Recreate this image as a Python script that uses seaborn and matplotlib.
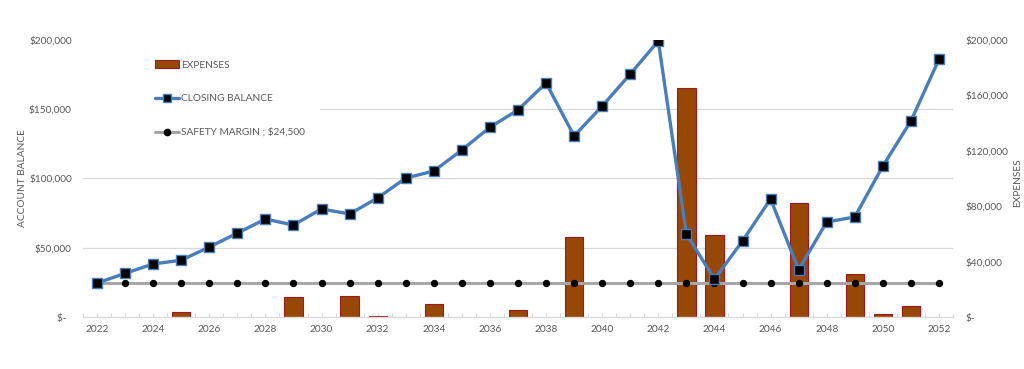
import matplotlib
matplotlib.use("Agg")
import matplotlib.pyplot as plt
import seaborn as sns
import pandas as pd
from matplotlib.ticker import FixedLocator, MultipleLocator
from matplotlib.patches import Patch, Rectangle
from matplotlib.lines import Line2D

# ---------------- data ----------------
years = list(range(2022, 2053))

closing_balance = [24500, 31500, 38300, 41000, 50500, 60600, 70700, 66400, 78000, 74400,
                   86000, 100300, 105400, 120600, 137000, 149500, 169000, 130700, 152300, 175400,
                   199300, 60000, 27300, 54900, 85200, 34200, 68600, 72200, 109000, 141500,
                   186000]

expenses = [0, 0, 0, 3900, 0, 0, 0, 14200, 0, 15200,
            1000, 0, 9400, 0, 0, 5000, 0, 58000, 0, 0,
            0, 165000, 59200, 0, 0, 82500, 0, 31000, 2200, 8200,
            0]

safety_margin = [24500, 24500, 24500, 24500, 24500, 24500, 24500, 24500, 24500, 24500,
                 24500, 24500, 24500, 24500, 24500, 24500, 24500, 24500, 24500, 24500,
                 24500, 24500, 24500, 24500, 24500, 24500, 24500, 24500, 24500, 24500,
                 24500]

left_ticks = [0, 50000, 100000, 150000, 200000]
left_labels = ["$-  ", "$50,000", "$100,000", "$150,000", "$200,000"]
right_ticks = [0, 40000, 80000, 120000, 160000, 200000]
right_labels = ["$-", "$40,000", "$80,000", "$120,000", "$160,000", "$200,000"]
x_ticks = list(range(2022, 2053, 2))

legend_labels = ["EXPENSES", "CLOSING BALANCE", "SAFETY MARGIN ; $24,500"]

# ---------------- style ----------------
sns.set_theme(style="white")
plt.rcParams["font.family"] = ["Lato", "DejaVu Sans"]

TEXT = "#595959"
GRID = "#D9D9D9"
BAR_FILL = "#974706"
BAR_EDGE = "#A0181C"
BLUE = "#4A7EBB"
GRAY = "#A6A6A6"
FS = 7.3

df = pd.DataFrame({"year": years, "balance": closing_balance,
                   "expenses": expenses, "safety": safety_margin})
bars_df = df[df["expenses"] > 0]

fig = plt.figure(figsize=(10.24, 3.69), dpi=100)
ax = fig.add_axes([83 / 1024, 52 / 369, 870 / 1024, 277 / 369])

# bars: expenses (right axis)
sns.barplot(data=bars_df, x="year", y="expenses", native_scale=True, width=0.65,
            color=BAR_FILL, saturation=1, edgecolor=BAR_EDGE, linewidth=0.8,
            ax=ax, zorder=2)

ax2 = ax.twinx()
sns.lineplot(data=df, x="year", y="safety", ax=ax2, color=GRAY, linewidth=2.2,
             marker="o", markersize=4.5, markerfacecolor="black",
             markeredgecolor="black", zorder=3)
sns.lineplot(data=df, x="year", y="balance", ax=ax2, color=BLUE, linewidth=2.4,
             marker="s", markersize=7, markerfacecolor="black",
             markeredgecolor=BLUE, markeredgewidth=1, zorder=4)

# limits
ax.set_xlim(2021.5, 2052.5)
ax.set_ylim(0, 200000)
ax2.set_ylim(0, 200000)

# axis positions
ax.yaxis.tick_right()
ax.yaxis.set_label_position("right")
ax2.yaxis.tick_left()
ax2.yaxis.set_label_position("left")

ax.set_yticks(right_ticks)
ax.set_yticklabels(right_labels)
ax2.set_yticks(left_ticks)
ax2.set_yticklabels(left_labels)

ax.set_xticks(x_ticks)
ax.set_xticklabels([str(y) for y in x_ticks])
ax.xaxis.set_minor_locator(MultipleLocator(0.5))

# gridlines (behind bars) at the balance-axis positions
ax.yaxis.set_minor_locator(FixedLocator(left_ticks[1:]))
ax.grid(False)
ax2.grid(False)
ax.grid(True, which="minor", axis="y", color=GRID, linewidth=0.9)
ax.set_axisbelow(True)

# white box behind legend (hides gridline there)
ax.add_patch(Rectangle((0, 0.62), 0.272, 0.34, transform=ax.transAxes,
                       facecolor="white", edgecolor="none", zorder=1))

# spines
for s in ["top", "left", "right"]:
    ax.spines[s].set_visible(False)
for s in ax2.spines.values():
    s.set_visible(False)
ax.spines["bottom"].set_color(GRID)
ax.spines["bottom"].set_linewidth(1)

ax.tick_params(axis="x", which="both", direction="in", length=3, width=0.8,
               color=GRID, labelsize=FS, labelcolor=TEXT, pad=6, bottom=True, top=False)
ax.tick_params(axis="y", which="both", length=0, labelsize=FS, labelcolor=TEXT, pad=9)
ax2.tick_params(axis="y", which="both", length=0, labelsize=FS, labelcolor=TEXT, pad=8)

ax.set_xlabel("")
ax.set_ylabel("EXPENSES", fontsize=FS, color=TEXT)
ax2.set_ylabel("ACCOUNT BALANCE", fontsize=FS, color=TEXT)
ax.yaxis.set_label_coords(1.069, 0.484)
ax2.yaxis.set_label_coords(-0.064, 0.50)

handles = [
    Patch(facecolor=BAR_FILL, edgecolor=BAR_EDGE, linewidth=0.8),
    Line2D([], [], color=BLUE, linewidth=2.4, marker="s", markersize=6,
           markerfacecolor="black", markeredgecolor=BLUE),
    Line2D([], [], color=GRAY, linewidth=2.2, marker="o", markersize=4.5,
           markerfacecolor="black", markeredgecolor="black"),
]
leg = ax2.legend(handles, legend_labels, loc="upper left", bbox_to_anchor=(0.0828, 0.926),
                 frameon=False, fontsize=FS, labelcolor=TEXT, handlelength=2.35,
                 handletextpad=0.2, labelspacing=2.42, borderpad=0, borderaxespad=0)

fig.savefig("out.png", dpi=100, facecolor="white")
